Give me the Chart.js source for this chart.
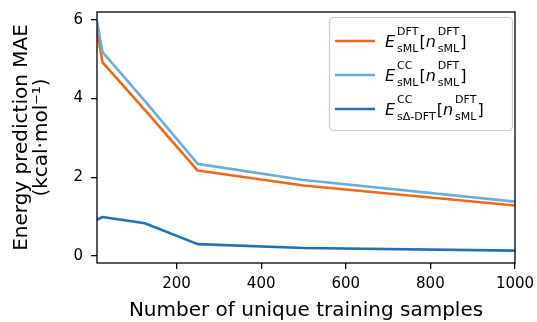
<!DOCTYPE html>
<html>
<head>
<meta charset="utf-8">
<script src="https://cdn.jsdelivr.net/npm/chart.js@4.4.1/dist/chart.umd.min.js"></script>
<style>
  html, body { margin: 0; padding: 0; background: #fff; }
  #wrap { width: 537px; height: 322px; }
</style>
</head>
<body>
<div id="wrap"><canvas id="maeChart" width="537" height="322"></canvas></div>
<script>
// values
var samples = [12, 25, 125, 250, 500, 1000];
var dftErr = [5.75, 4.92, 3.71, 2.17, 1.79, 1.28];
var ccErr = [5.97, 5.18, 3.94, 2.34, 1.93, 1.38];
var deltaErr = [0.92, 0.99, 0.83, 0.30, 0.20, 0.135];

var xTicks = [200, 400, 600, 800, 1000];
var yTicks = [0, 2, 4, 6];

var colOrange = '#f26818';
var colLight = '#6baed6';
var colDark = '#2171b5';

function toPoints(ys) {
    return samples.map(function (x, i) { return {x: x, y: ys[i]}; });
}

// legend entries: math pieces drawn by hand (sub/superscripts)
var legendRows = [
    {color: colOrange, parts: [{t: 'E', it: true}, {sup: 'DFT', sub: 'sML'}, {t: '['}, {t: 'n', it: true}, {sup: 'DFT', sub: 'sML'}, {t: ']'}]},
    {color: colLight, parts: [{t: 'E', it: true}, {sup: 'CC', sub: 'sML'}, {t: '['}, {t: 'n', it: true}, {sup: 'DFT', sub: 'sML'}, {t: ']'}]},
    {color: colDark, parts: [{t: 'E', it: true}, {sup: 'CC', sub: 'sΔ-DFT'}, {t: '['}, {t: 'n', it: true}, {sup: 'DFT', sub: 'sML'}, {t: ']'}]}
];

var FONT = '"DejaVu Sans", sans-serif';

function drawMath(ctx, parts, x, base) {
    parts.forEach(function (p) {
        if (p.t) {
            ctx.font = (p.it ? 'oblique ' : '') + '16px ' + FONT;
            ctx.fillText(p.t, x, base);
            x += ctx.measureText(p.t).width;
        } else {
            ctx.font = '11px ' + FONT;
            var x0 = x + 2;
            ctx.fillText(p.sup, x0, base - 12);
            ctx.fillText(p.sub, x0, base + 5);
            var w = Math.max(ctx.measureText(p.sup).width, ctx.measureText(p.sub).width);
            x = x0 + w + 1;
        }
    });
}

var framePlugin = {
    id: 'frame',
    afterDatasetsDraw: function (chart) {
        var a = chart.chartArea;
        var ctx = chart.ctx;
        ctx.save();
        ctx.strokeStyle = '#000';
        ctx.lineWidth = 1.3;
        ctx.strokeRect(a.left, a.top, a.right - a.left, a.bottom - a.top);
        ctx.restore();
    },
    afterDraw: function (chart) {
        var ctx = chart.ctx;
        ctx.save();
        // legend box
        var bx = 329.5, by = 17.5, bw = 183, bh = 113, r = 4;
        ctx.beginPath();
        ctx.moveTo(bx + r, by);
        ctx.arcTo(bx + bw, by, bx + bw, by + bh, r);
        ctx.arcTo(bx + bw, by + bh, bx, by + bh, r);
        ctx.arcTo(bx, by + bh, bx, by, r);
        ctx.arcTo(bx, by, bx + bw, by, r);
        ctx.closePath();
        ctx.fillStyle = 'rgba(255,255,255,0.8)';
        ctx.fill();
        ctx.strokeStyle = '#cccccc';
        ctx.lineWidth = 1.2;
        ctx.stroke();

        legendRows.forEach(function (row, i) {
            var cy = 41 + i * 34;
            ctx.strokeStyle = row.color;
            ctx.lineWidth = 2.6;
            ctx.beginPath();
            ctx.moveTo(335, cy);
            ctx.lineTo(375, cy);
            ctx.stroke();
            ctx.fillStyle = '#000';
            ctx.textBaseline = 'alphabetic';
            ctx.textAlign = 'left';
            drawMath(ctx, row.parts, 385, cy + 6);
        });
        ctx.restore();
    }
};

var ctx = document.getElementById('maeChart');
var myChart = new Chart(ctx, {
    type: 'line',
    data: {
        datasets: [{
            label: 'E_sML^DFT[n_sML^DFT]',
            data: toPoints(dftErr),
            borderColor: colOrange,
            borderWidth: 2.6,
            order: 2
        }, {
            label: 'E_sML^CC[n_sML^DFT]',
            data: toPoints(ccErr),
            borderColor: colLight,
            borderWidth: 2.6,
            order: 1
        }, {
            label: 'E_sΔ-DFT^CC[n_sML^DFT]',
            data: toPoints(deltaErr),
            borderColor: colDark,
            borderWidth: 2.6,
            order: 0
        }]
    },
    options: {
        responsive: false,
        animation: false,
        events: [],
        elements: {
            point: {radius: 0},
            line: {tension: 0, borderCapStyle: 'butt', borderJoinStyle: 'round'}
        },
        layout: {padding: {top: 12, right: 22, left: 0, bottom: 0}},
        plugins: {
            legend: {display: false},
            tooltip: {enabled: false}
        },
        scales: {
            x: {
                type: 'linear',
                min: 12,
                max: 1000,
                afterBuildTicks: function (scale) {
                    scale.ticks = xTicks.map(function (v) { return {value: v}; });
                },
                afterFit: function (scale) {
                    scale.height = 59;
                    scale.paddingLeft = 0;
                    scale.paddingRight = 0;
                },
                border: {display: false},
                grid: {drawOnChartArea: false, drawTicks: true, tickLength: 6, color: '#000', lineWidth: 1.3},
                ticks: {
                    color: '#000', font: {family: FONT, size: 15}, padding: 6, maxRotation: 0,
                    callback: function (v) { return String(v); }
                },
                title: {
                    display: true,
                    text: 'Number of unique training samples',
                    color: '#000',
                    font: {family: FONT, size: 20, lineHeight: 1},
                    padding: {top: 0, bottom: 1}
                }
            },
            y: {
                min: -0.18,
                max: 6.2,
                afterBuildTicks: function (scale) {
                    scale.ticks = yTicks.map(function (v) { return {value: v}; });
                },
                afterFit: function (scale) {
                    scale.width = 97;
                    scale.paddingTop = 0;
                    scale.paddingBottom = 0;
                },
                border: {display: false},
                grid: {drawOnChartArea: false, drawTicks: true, tickLength: 6, color: '#000', lineWidth: 1.3},
                ticks: {
                    color: '#000', font: {family: FONT, size: 15}, padding: 8,
                    callback: function (v) { return String(v); }
                },
                title: {
                    display: true,
                    text: ['Energy prediction MAE', '(kcal·mol⁻¹)'],
                    color: '#000',
                    font: {family: FONT, size: 20, lineHeight: 1},
                    padding: {top: 12, bottom: 0}
                }
            }
        }
    },
    plugins: [framePlugin]
});
</script>
</body>
</html>
